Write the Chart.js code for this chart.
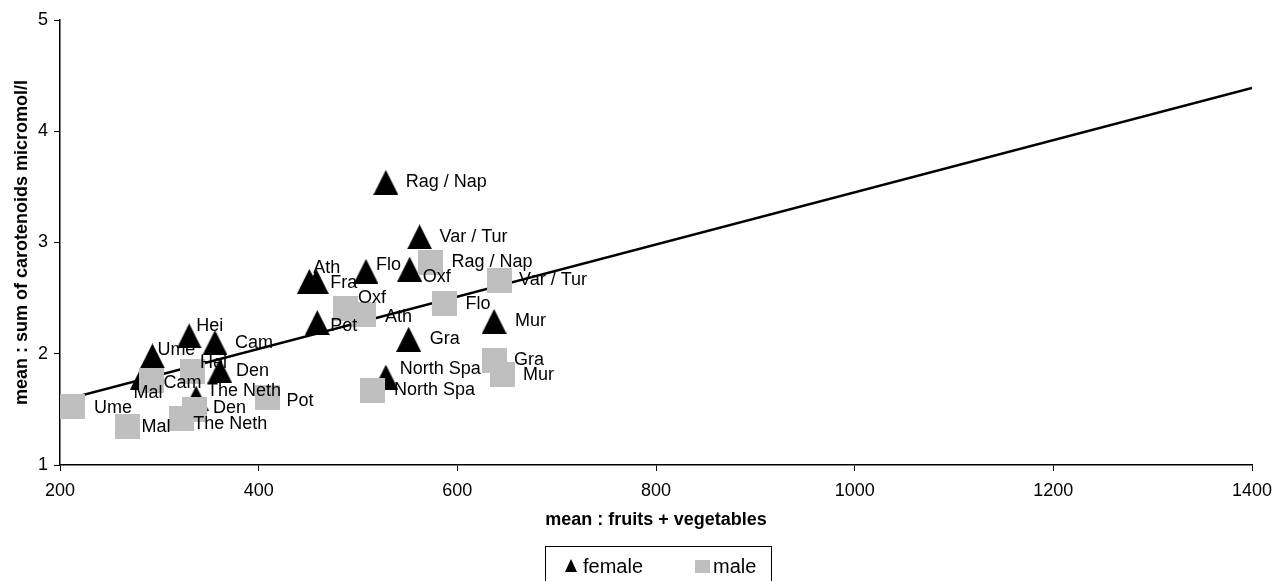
<!DOCTYPE html>
<html>
<head>
<meta charset="utf-8">
<script src="https://cdn.jsdelivr.net/npm/chart.js@4.4.0/dist/chart.umd.min.js"></script>
<style>
  html, body { margin: 0; padding: 0; background: #fff; overflow: hidden; }
  #wrap { position: relative; width: 1274px; height: 581px; }
  #legend {
    position: absolute; left: 545px; top: 546px; width: 227px; height: 44px;
    border: 1px solid #000; box-sizing: border-box;
    font-family: "Liberation Sans", Arial, sans-serif; font-size: 20px; color: #000;
  }
  .item { position: absolute; top: 6px; height: 26px; line-height: 26px; }
  .tri { position: absolute; width: 0; height: 0; border-left: 6px solid transparent; border-right: 6px solid transparent; border-bottom: 13px solid #000; top: 6px; }
  .sq { position: absolute; width: 15px; height: 13px; background: #bfbfbf; top: 7px; }
</style>
</head>
<body>
<div id="wrap">
  <canvas id="c" width="1274" height="581"></canvas>
  <div id="legend">
    <div class="item" style="left:19px;"><span class="tri" style="left:0;"></span><span style="margin-left:18px;">female</span></div>
    <div class="item" style="left:149px;"><span class="sq" style="left:0;"></span><span style="margin-left:18px;">male</span></div>
  </div>
</div>
<script>
// ---- data ----
const femaleLabels = ["Rag / Nap","Var / Tur","Flo","Oxf","Ath","Fra","Pot","Gra","Mur","North Spa","Hei","Cam","Ume","Mal","Den","The Neth"];
const femaleX = [528, 562, 508, 552, 451, 458, 459, 551, 637, 528, 330, 356, 293, 283, 361, 337];
const femaleY = [3.54, 3.05, 2.74, 2.76, 2.65, 2.65, 2.28, 2.13, 2.29, 1.79, 2.16, 2.10, 1.98, 1.79, 1.845, 1.60];

const maleLabels = ["Ume","Mal","Cam","Hei","The Neth","Den","Pot","Oxf","Ath","Flo","Rag / Nap","Var / Tur","Gra","Mur","North Spa"];
const maleX = [213, 268, 292, 333, 322, 335, 409, 487, 506, 587, 573, 642, 637, 645, 515];
const maleY = [1.53, 1.35, 1.76, 1.84, 1.42, 1.50, 1.61, 2.41, 2.35, 2.45, 2.82, 2.66, 1.94, 1.81, 1.67];

const trendX = [200, 1400];
const trendY = [1.575, 4.39];

const xTicks = [200, 400, 600, 800, 1000, 1200, 1400];
const yTicks = [1, 2, 3, 4, 5];

// ---- label layout (offsets from marker centre, px) ----
const femaleLabelOffsets = [[20,0],[20,0],[10,-6],[13,8],[4,-13],[14,2],[13,3],[21,0],[21,0],[14,-8],[7,-10],[20,0],[5,-6],[-9,16],[16,0],[11,-7]];
const maleLabelOffsets = [[21,2],[14,1],[12,3],[8,-9],[12,6],[19,-1],[19,4],[13,-10],[21,2],[21,0],[21,0],[20,0],[20,0],[21,0],[21,0]];

// ---- marker images ----
function makeTri() {
  const c = document.createElement('canvas'); c.width = 25; c.height = 25;
  const g = c.getContext('2d');
  g.fillStyle = '#000'; g.beginPath(); g.moveTo(12.5, 0); g.lineTo(25, 25); g.lineTo(0, 25); g.closePath(); g.fill();
  return c;
}
function makeSq() {
  const c = document.createElement('canvas'); c.width = 25; c.height = 25;
  const g = c.getContext('2d');
  g.fillStyle = '#bfbfbf'; g.fillRect(0, 0, 25, 25);
  return c;
}

const FONT = '"Liberation Sans", Arial, sans-serif';

const pointLabels = {
  id: 'pointLabels',
  afterDatasetsDraw(chart) {
    const ctx = chart.ctx;
    ctx.save();
    ctx.font = '18px ' + FONT;
    ctx.fillStyle = '#000';
    ctx.textAlign = 'left';
    ctx.textBaseline = 'middle';
    const sets = [[1, femaleLabels, femaleLabelOffsets], [2, maleLabels, maleLabelOffsets]];
    for (const [di, labels, offs] of sets) {
      const meta = chart.getDatasetMeta(di);
      meta.data.forEach((el, i) => {
        ctx.fillText(labels[i], el.x + offs[i][0], el.y + offs[i][1]);
      });
    }
    ctx.restore();
  }
};

new Chart(document.getElementById('c'), {
  type: 'scatter',
  data: {
    datasets: [
      {
        label: 'trend', type: 'line', order: 3,
        data: trendX.map((x, i) => ({x, y: trendY[i]})),
        borderColor: '#000', borderWidth: 2.5, pointRadius: 0, fill: false, showLine: true
      },
      {
        label: 'female', order: 2,
        data: femaleX.map((x, i) => ({x, y: femaleY[i]})),
        pointStyle: makeTri(), pointRadius: 13
      },
      {
        label: 'male', order: 1,
        data: maleX.map((x, i) => ({x, y: maleY[i]})),
        pointStyle: makeSq(), pointRadius: 13
      }
    ]
  },
  options: {
    responsive: false,
    animation: false,
    layout: { padding: { top: 20, right: 22, left: 0, bottom: 0 } },
    plugins: { legend: { display: false }, tooltip: { enabled: false } },
    scales: {
      x: {
        type: 'linear', min: 200, max: 1400,
        afterFit(s) { s.height = 116; s.paddingLeft = 0; s.paddingRight = 0; },
        afterBuildTicks(s) { s.ticks = xTicks.map(v => ({value: v})); },
        grid: { drawOnChartArea: false, drawTicks: true, tickLength: 6, color: '#000' },
        border: { display: true, color: '#000', width: 1.5 },
        ticks: { color: '#000', font: { family: FONT, size: 18 }, padding: 9, maxRotation: 0, callback: v => String(v) },
        title: { display: true, text: 'mean : fruits + vegetables', color: '#000', font: { family: FONT, size: 18, weight: 'bold' }, padding: { top: 0, bottom: 50 } }
      },
      y: {
        type: 'linear', min: 1, max: 5,
        afterFit(s) { s.width = 60; s.paddingTop = 0; s.paddingBottom = 0; },
        afterBuildTicks(s) { s.ticks = yTicks.map(v => ({value: v})); },
        grid: { drawOnChartArea: false, drawTicks: true, tickLength: 6, color: '#000' },
        border: { display: true, color: '#000', width: 1.5 },
        ticks: { color: '#000', font: { family: FONT, size: 18 }, padding: 6, callback: v => String(v) },
        title: { display: true, text: 'mean : sum of carotenoids micromol/l', color: '#000', font: { family: FONT, size: 18, weight: 'bold' }, padding: { top: 11, bottom: 0 } }
      }
    }
  },
  plugins: [pointLabels]
});
</script>
</body>
</html>
